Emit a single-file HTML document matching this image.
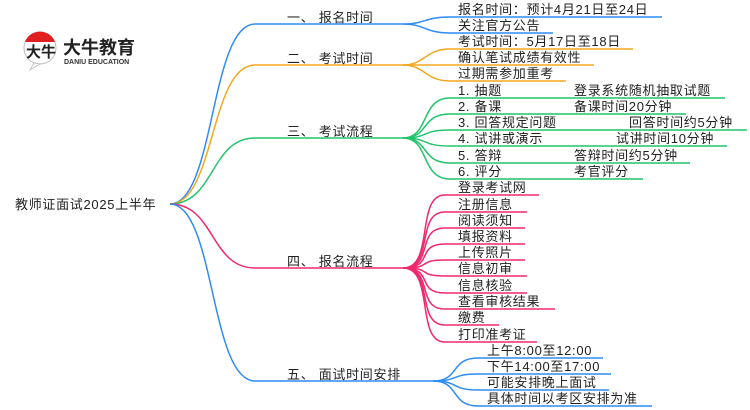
<!DOCTYPE html>
<html><head><meta charset="utf-8"><style>
html,body{margin:0;padding:0;background:#fff;width:750px;height:410px;overflow:hidden}
svg text{font-family:"Liberation Sans","Noto Sans CJK SC",sans-serif;font-size:13px;fill:#222;letter-spacing:0.7px}
</style></head><body>
<svg width="750" height="410" viewBox="0 0 750 410" xmlns="http://www.w3.org/2000/svg">
<circle cx="40" cy="48" r="16" fill="#fff" stroke="#bbb" stroke-width="1"/>
<path d="M25,42 A16,16 0 0 1 55,42 Z" fill="#e02020"/>
<path d="M34,63 L30,70 L40,64 Z" fill="#fff" stroke="#bbb" stroke-width="0.8"/>
<text x="26" y="57" style="font-size:15px;font-weight:bold;fill:#222;letter-spacing:0">大牛</text>
<text x="63" y="54" style="font-size:18px;font-weight:bold;fill:#222;letter-spacing:0">大牛教育</text>
<text x="64" y="64" style="font-size:7px;font-weight:bold;fill:#333;letter-spacing:0">DANIU EDUCATION</text>

<g fill="none" stroke-width="1.5">
<path d="M170,204 C215,204 210,24 255,24 L403,24" stroke="#2f8cf5"/>
<path d="M170,204 C215,204 210,65 255,65 L403,65" stroke="#f5a81f"/>
<path d="M170,204 C215,204 210,138 255,138 L403,138" stroke="#22c46b"/>
<path d="M170,204 C215,204 210,268 255,268 L403,268" stroke="#f0286e"/>
<path d="M170,204 C215,204 210,381 255,381 L433,381" stroke="#2f8cf5"/>
<g stroke="#2f8cf5">
<path d="M403,24 C425,24 425,17 450,17 L662,17"/>
<path d="M403,24 C425,24 425,33 450,33 L553,33"/>
</g>
<g stroke="#f5a81f">
<path d="M403,65 C425,65 425,49 450,49 L633,49"/>
<path d="M403,65 L594,65"/>
<path d="M403,65 C425,65 425,81 450,81 L566,81"/>
</g>
<g stroke="#22c46b">
<path d="M403,138 C430,138 420,98 450,98 L725,98"/>
<path d="M403,138 C430,138 420,114 450,114 L686,114"/>
<path d="M403,138 C430,138 420,130 450,130 L747,130"/>
<path d="M403,138 C430,138 420,146 450,146 L727,146"/>
<path d="M403,138 C430,138 420,163 450,163 L690,163"/>
<path d="M403,138 C430,138 420,179 450,179 L643,179"/>
</g>
<g stroke="#f0286e">
<path d="M403,268 C435,268 415,195 445,195 L539,195"/>
<path d="M403,268 C435,268 415,212 445,212 L527,212"/>
<path d="M403,268 C435,268 415,228 445,228 L525,228"/>
<path d="M403,268 C435,268 415,244 445,244 L525,244"/>
<path d="M403,268 C435,268 415,260 445,260 L525,260"/>
<path d="M403,268 C435,268 415,276 445,276 L527,276"/>
<path d="M403,268 C435,268 415,293 445,293 L527,293"/>
<path d="M403,268 C435,268 415,309 445,309 L555,309"/>
<path d="M403,268 C435,268 415,325 445,325 L499,325"/>
<path d="M403,268 C435,268 415,342 445,342 L537,342"/>
</g>
<g stroke="#2f8cf5">
<path d="M433,381 C460,381 450,358 478,358 L603,358"/>
<path d="M433,381 C460,381 450,374 478,374 L611,374"/>
<path d="M433,381 C460,381 450,390 478,390 L609,390"/>
<path d="M433,381 C460,381 450,406 478,406 L652,406"/>
</g>
</g>

<text x="15" y="209">教师证面试2025上半年</text>
<text x="287" y="22">一、 报名时间</text>
<text x="287" y="63">二、 考试时间</text>
<text x="287" y="136">三、 考试流程</text>
<text x="287" y="266">四、 报名流程</text>
<text x="287" y="379">五、 面试时间安排</text>

<text x="458" y="14">报名时间：预计4月21日至24日</text>
<text x="458" y="30">关注官方公告</text>
<text x="458" y="46">考试时间：5月17日至18日</text>
<text x="458" y="62">确认笔试成绩有效性</text>
<text x="458" y="78">过期需参加重考</text>

<text x="458" y="95">1. 抽题</text><text x="574" y="95">登录系统随机抽取试题</text>
<text x="458" y="111">2. 备课</text><text x="574" y="111">备课时间20分钟</text>
<text x="458" y="127">3. 回答规定问题</text><text x="629" y="127">回答时间约5分钟</text>
<text x="458" y="143">4. 试讲或演示</text><text x="616" y="143">试讲时间10分钟</text>
<text x="458" y="160">5. 答辩</text><text x="574" y="160">答辩时间约5分钟</text>
<text x="458" y="176">6. 评分</text><text x="574" y="176">考官评分</text>

<text x="458" y="192">登录考试网</text>
<text x="458" y="209">注册信息</text>
<text x="458" y="225">阅读须知</text>
<text x="458" y="241">填报资料</text>
<text x="458" y="257">上传照片</text>
<text x="458" y="273">信息初审</text>
<text x="458" y="290">信息核验</text>
<text x="458" y="306">查看审核结果</text>
<text x="458" y="322">缴费</text>
<text x="458" y="339">打印准考证</text>

<text x="487" y="355">上午8:00至12:00</text>
<text x="487" y="371">下午14:00至17:00</text>
<text x="487" y="387">可能安排晚上面试</text>
<text x="487" y="403">具体时间以考区安排为准</text>
</svg>
</body></html>
